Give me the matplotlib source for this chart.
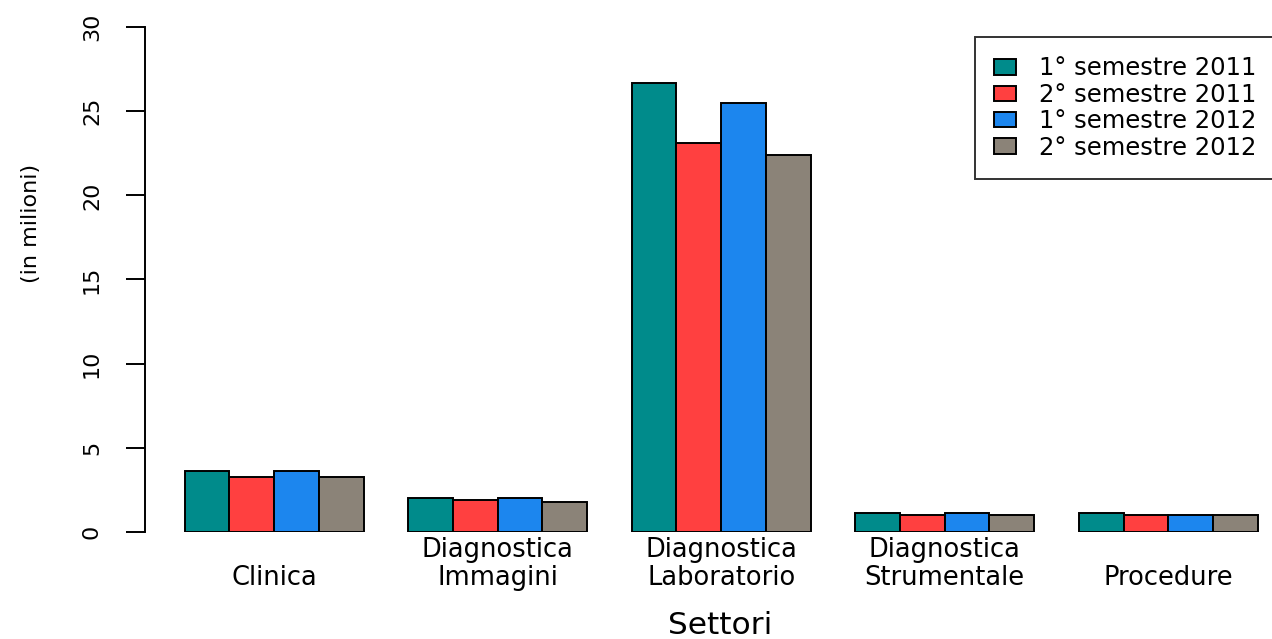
import numpy as np
import matplotlib
matplotlib.use("Agg")
import matplotlib.pyplot as plt

settori = ["Clinica", "Diagnostica\nImmagini", "Diagnostica\nLaboratorio",
           "Diagnostica\nStrumentale", "Procedure"]
semestri = ["1° semestre 2011", "2° semestre 2011", "1° semestre 2012", "2° semestre 2012"]
colori = ["#008B8B", "#FF4040", "#1C86EE", "#8B8378"]

s1_2011 = [3.6, 2.0, 26.7, 1.1, 1.1]
s2_2011 = [3.25, 1.9, 23.1, 1.0, 1.0]
s1_2012 = [3.6, 2.0, 25.5, 1.1, 1.0]
s2_2012 = [3.25, 1.8, 22.4, 1.0, 1.0]
serie = [s1_2011, s2_2011, s1_2012, s2_2012]

plt.rcParams["font.family"] = "DejaVu Sans"

fig = plt.figure(figsize=(12.72, 6.39), dpi=100)
ax = fig.add_axes([145 / 1272, 0.1675, 1 - 145 / 1272, 0.8166])

# R barplot, beside=TRUE: spazio 1 tra i gruppi
gruppi = np.arange(len(settori)) * 5 + 1
for i, valori in enumerate(serie):
    ax.bar(gruppi + i, valori, width=1, align="edge", color=colori[i],
           edgecolor="black", linewidth=1.4, label=semestri[i])

ax.set_xlim(0.112, 25.32)
ax.set_ylim(0, 31)

ax.set_xticks(gruppi + 2)
ax.set_xticklabels(["\n" + s if "\n" not in s else s for s in settori],
                   fontsize=18.5, linespacing=1.12)
ax.tick_params(axis="x", length=0, pad=3.5)

ax.set_yticks(np.arange(0, 31, 5))
ax.tick_params(axis="y", length=14, width=1.4, pad=17, labelsize=16)
for lab in ax.get_yticklabels():
    lab.set_rotation(90)
    lab.set_va("center")

for s in ["top", "right", "bottom"]:
    ax.spines[s].set_visible(False)
ax.spines["left"].set_bounds(0, 30)
ax.spines["left"].set_linewidth(1.4)

fig.text(31 / 1272, 1 - 223 / 639, "(in milioni)", rotation=90,
         ha="center", va="center", fontsize=16)
fig.text(720 / 1272, 1 - 625 / 639, "Settori", ha="center", va="center", fontsize=22.5)

leg = ax.legend(loc="upper left", bbox_to_anchor=(975 / 1272, 1 - 37 / 639),
                bbox_transform=fig.transFigure, fontsize=17.5, frameon=True,
                fancybox=False, borderpad=0.8, labelspacing=0.1,
                handlelength=0.9, handleheight=0.6, handletextpad=0.95,
                borderaxespad=0)
leg.get_frame().set_edgecolor("black")
leg.get_frame().set_linewidth(1.4)

fig.savefig("out.png", dpi=100)
